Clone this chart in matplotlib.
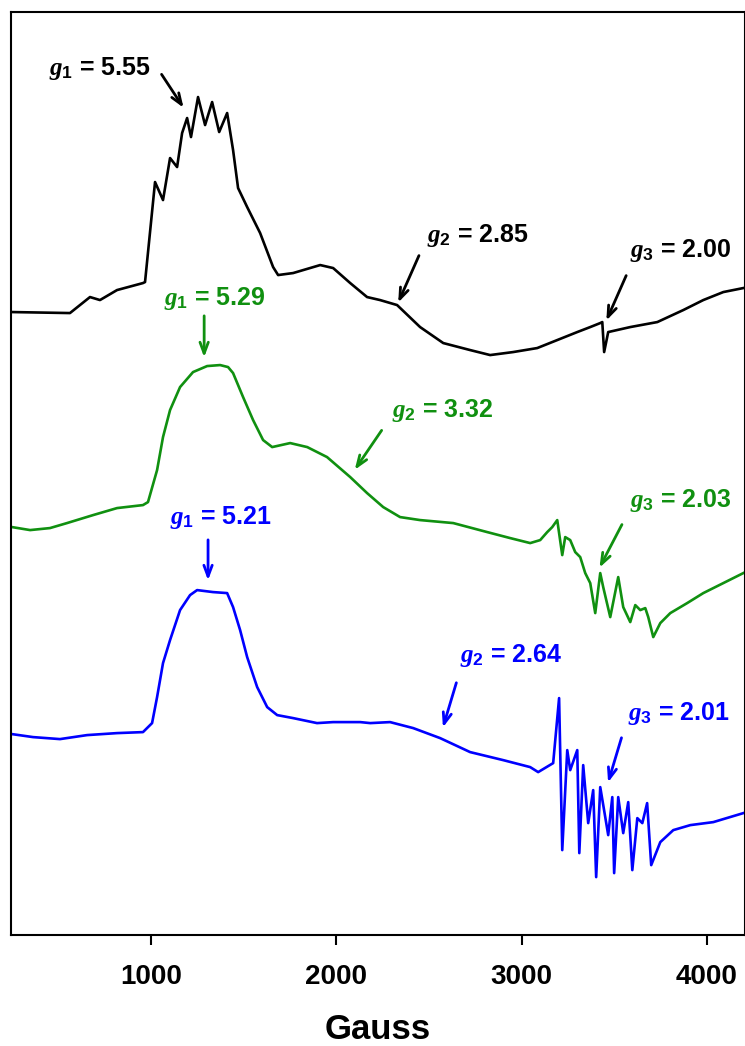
import numpy as np
import matplotlib
matplotlib.use("Agg")
import matplotlib.pyplot as plt

# fonts: bold sans for numbers, bold italic serif for the g symbol
plt.rcParams['font.family'] = ['Liberation Sans', 'DejaVu Sans']
plt.rcParams['font.weight'] = 'bold'
plt.rcParams['mathtext.fontset'] = 'custom'
plt.rcParams['mathtext.it'] = 'Liberation Serif:italic:bold'
plt.rcParams['mathtext.rm'] = 'Liberation Sans:bold'
plt.rcParams['mathtext.bf'] = 'Liberation Sans:bold'

# EPR traces (field in Gauss, stacked intensity in arb. units)
black_field = [250, 563, 671, 725, 817, 957, 968, 1022, 1065, 1103, 1141, 1168, 1195, 1216, 1254,
               1292, 1330, 1368, 1411, 1443, 1470, 1519, 1589, 1659, 1686, 1767, 1913, 1983, 2075,
               2166, 2236, 2328, 2452, 2577, 2722, 2830, 2954, 3084, 3192, 3300, 3370, 3424, 3435,
               3445, 3467, 3586, 3732, 3872, 3980, 4088, 4196]
black_int = [623, 622, 638, 635, 645, 652, 653, 753, 735, 777, 768, 802, 817, 798, 838,
             810, 833, 803, 822, 785, 747, 728, 702, 668, 660, 662, 670, 667, 652,
             638, 635, 630, 608, 592, 585, 580, 583, 587, 595, 603, 608, 612, 613,
             583, 603, 608, 613, 625, 635, 643, 647]

green_field = [250, 348, 455, 547, 688, 817, 957, 984, 1033, 1065, 1103, 1157, 1227, 1303, 1373,
               1416, 1443, 1497, 1551, 1605, 1654, 1751, 1843, 1950, 2075, 2166, 2253, 2344, 2452,
               2631, 2814, 2938, 3046, 3100, 3138, 3165, 3192, 3219, 3235, 3262, 3289, 3316, 3343,
               3370, 3397, 3424, 3440, 3478, 3521, 3548, 3586, 3613, 3640, 3667, 3683, 3710, 3748,
               3802, 3893, 3980, 4088, 4196]
green_int = [408, 405, 407, 412, 420, 427, 430, 433, 465, 498, 525, 548, 563, 569, 570,
             568, 562, 538, 515, 495, 488, 492, 488, 478, 458, 442, 428, 418, 415,
             412, 403, 397, 392, 395, 403, 408, 415, 380, 398, 395, 383, 378, 362,
             352, 322, 362, 348, 318, 358, 328, 313, 330, 325, 327, 318, 298, 312,
             322, 332, 342, 352, 362]

blue_field = [250, 364, 509, 655, 817, 957, 1006, 1033, 1065, 1103, 1157, 1211, 1249, 1335, 1411,
              1443, 1481, 1519, 1573, 1627, 1681, 1767, 1896, 1983, 2129, 2183, 2290, 2415, 2560,
              2722, 2900, 3046, 3089, 3170, 3202, 3219, 3246, 3262, 3300, 3311, 3332, 3359, 3386,
              3402, 3424, 3451, 3467, 3489, 3499, 3521, 3548, 3575, 3597, 3624, 3651, 3677, 3699,
              3748, 3818, 3910, 4034, 4196]
blue_int = [201, 198, 196, 200, 202, 203, 212, 238, 272, 295, 325, 340, 345, 343, 342,
            328, 305, 278, 248, 228, 220, 217, 212, 213, 213, 212, 213, 207, 197,
            183, 175, 168, 163, 172, 237, 85, 185, 165, 185, 82, 170, 112, 145,
            58, 148, 118, 100, 138, 62, 138, 102, 133, 65, 117, 112, 132, 70,
            93, 105, 110, 113, 122]

# g-value labels: text, arrow tail, arrow head, text centre
labels = ['$g_1$ = 5.55', '$g_2$ = 2.85', '$g_3$ = 2.00',
          '$g_1$ = 5.29', '$g_2$ = 3.32', '$g_3$ = 2.03',
          '$g_1$ = 5.21', '$g_2$ = 2.64', '$g_3$ = 2.01']
head_xy = [(1184, 825), (2328, 630), (3451, 612),
           (1287, 575), (2091, 463), (3413, 365),
           (1308, 352), (2571, 205), (3462, 150)]
tail_xy = [(1049, 863), (2452, 682), (3570, 662),
           (1287, 622), (2253, 507), (3548, 413),
           (1308, 398), (2652, 255), (3543, 200)]
text_xy = [(725, 867), (2765, 700), (3856, 685),
           (1346, 637), (2576, 525), (3856, 435),
           (1378, 418), (2943, 280), (3850, 222)]

colors = ['black', '#109010', '#0000ff']
x_ticks = [1000, 2000, 3000, 4000]

fig = plt.figure(figsize=(7.45, 10.46), dpi=100)
ax = fig.add_axes([0.0148, 0.106, 0.9852, 0.8825])

ax.plot(black_field, black_int, color=colors[0], lw=1.9)
ax.plot(green_field, green_int, color=colors[1], lw=1.9)
ax.plot(blue_field, blue_int, color=colors[2], lw=1.9)

for i in range(len(labels)):
    c = colors[i // 3]
    ax.annotate('', xy=head_xy[i], xytext=tail_xy[i],
                arrowprops=dict(arrowstyle='->,head_length=0.8,head_width=0.3', color=c, lw=2))
    ax.text(text_xy[i][0], text_xy[i][1], labels[i], color=c, fontsize=18,
            fontweight='bold', ha='center', va='center')

ax.set_xlim(245, 4205)
ax.set_ylim(0, 923)
ax.set_xticks(x_ticks)
ax.set_yticks([])
ax.tick_params(axis='x', direction='out', length=7, width=1.5, labelsize=20, pad=14)
for lab in ax.get_xticklabels():
    lab.set_fontweight('bold')
for s in ax.spines.values():
    s.set_linewidth(1.5)
ax.set_xlabel('Gauss', fontsize=25, fontweight='bold', labelpad=16)

fig.savefig('out.png', dpi=100)
